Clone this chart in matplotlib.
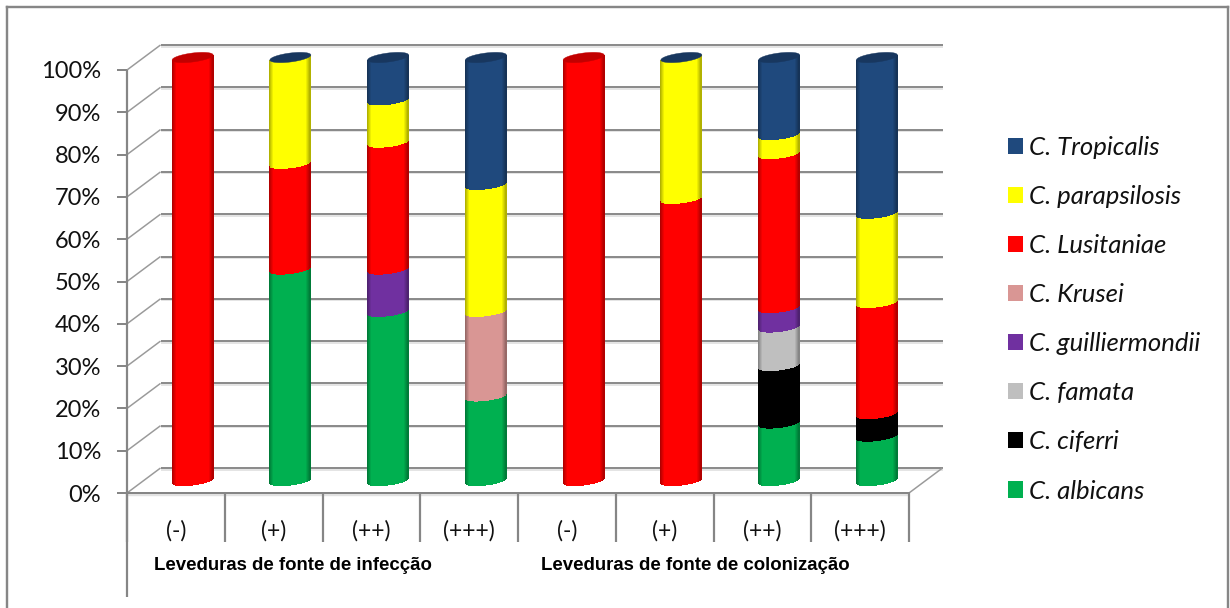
import numpy as np
import matplotlib
matplotlib.use("Agg")
import matplotlib.pyplot as plt
from matplotlib.collections import PolyCollection
from matplotlib.colors import to_rgb
from matplotlib.lines import Line2D
from matplotlib.patches import Patch, Polygon

nan = float("nan")

# Percentage of isolates per species in each group
categories = ["(-)", "(+)", "(++)", "(+++)", "(-)", "(+)", "(++)", "(+++)"]
albicans = [nan, 50, 40, 20, nan, nan, 13.6, 10.5]
ciferri = [nan, nan, nan, nan, nan, nan, 13.6, 5.3]
famata = [nan, nan, nan, nan, nan, nan, 9.1, nan]
guilliermondii = [nan, nan, 10, nan, nan, nan, 4.6, nan]
krusei = [nan, nan, nan, 20, nan, nan, nan, nan]
lusitaniae = [100, 25, 30, nan, 100, 66.7, 36.4, 26.3]
parapsilosis = [nan, 25, 10, 30, nan, 33.3, 4.5, 21.1]
tropicalis = [nan, 0, 10, 30, nan, 0, 18.2, 36.8]

series = [albicans, ciferri, famata, guilliermondii, krusei,
          lusitaniae, parapsilosis, tropicalis]
series_names = ["C. albicans", "C. ciferri", "C. famata", "C. guilliermondii",
                "C. Krusei", "C. Lusitaniae", "C. parapsilosis", "C. Tropicalis"]
series_colors = ["#00B050", "#000000", "#BFBFBF", "#7030A0",
                 "#D99694", "#FF0000", "#FFFF00", "#1F497D"]
group_names = ["Leveduras de fonte de infecção", "Leveduras de fonte de colonização"]
y_ticks = list(range(0, 101, 10))

W, H = 1230, 608
LEFT, RIGHT, BASE, TOP = 127, 909, 493, 70
DEPTH_X, DEPTH_Y = 33.5, 25
GRAY = "#868686"
plt.rcParams["font.family"] = ["Lato", "DejaVu Sans"]

fig = plt.figure(figsize=(W / 100, H / 100), dpi=100, facecolor="white")
ax = fig.add_axes([LEFT / W, 1 - BASE / H, (RIGHT - LEFT) / W, (BASE - TOP) / H])
ax.set_xlim(0, len(categories))
ax.set_ylim(0, 100)
ax.patch.set_visible(False)

px = 72 / 100  # points per pixel


def dx(pixels):
    return pixels * len(categories) / (RIGHT - LEFT)


def dy(pixels):
    # positive pixel values move upwards on the sheet
    return pixels * 100 / (BASE - TOP)


def seg(xs, ys, lw=2.0, color=GRAY, z=1):
    ax.add_line(Line2D(xs, ys, lw=lw * px, color=color, zorder=z, clip_on=False,
                       solid_capstyle="butt"))


# Outer chart border (runs past the lower edge of the sheet)
for xs, ys in [([7, 7], [608, 7]), ([7, 1228], [7, 7]), ([1228, 1228], [7, 608])]:
    fig.add_artist(Line2D([x / W for x in xs], [1 - y / H for y in ys],
                          lw=2.4 * px, color=GRAY, transform=fig.transFigure))

# Back wall gridlines and the receding lines on the side wall
n = len(categories)
for v in y_ticks:
    seg([dx(DEPTH_X), n + dx(DEPTH_X)], [v + dy(DEPTH_Y - 1.6)] * 2, lw=1.5, color="#dcdcdc", z=0.9)
    seg([dx(DEPTH_X), n + dx(DEPTH_X)], [v + dy(DEPTH_Y)] * 2, lw=1.9, z=1)
    seg([0, dx(DEPTH_X)], [v, v + dy(DEPTH_Y)], lw=1.5, color="#9a9a9a", z=1)
seg([n, n + dx(DEPTH_X)], [0, dy(DEPTH_Y)], lw=1.5, color="#9a9a9a", z=1)

# Floor front edge with its soft shadow, and the long vertical axis line
seg([0, n], [dy(-2.2)] * 2, lw=2.4, color="#e2e2e2", z=0.9)
seg([0, 0], [100, dy(-104)], lw=2.2, z=2)


def strip_profile(t, color):
    """Brightness across a cylinder, t in -1..1."""
    edge = np.clip((1 - np.abs(t)) / 0.22, 0, 1)
    shade = 0.66 + 0.34 * edge
    c = np.array(to_rgb(color))
    return tuple(np.clip(c * shade, 0, 1))


def front_arc(center_y_px, u, half_height=4.5, tilt=2.5):
    return center_y_px + half_height * np.sqrt(np.clip(1 - u ** 2, 0, 1)) - tilt * u


def draw_segment(cx, low, high, color, half_width=20.5, z=3):
    edges = np.linspace(-1, 1, 41)
    polys, faces = [], []
    for a, b in zip(edges[:-1], edges[1:]):
        x0, x1 = cx + dx(half_width) * a, cx + dx(half_width) * b
        low_a = low + dy(-(front_arc(0, a)))
        low_b = low + dy(-(front_arc(0, b)))
        high_a = high + dy(-(front_arc(0, a)))
        high_b = high + dy(-(front_arc(0, b)))
        polys.append([(x0, low_a), (x1, low_b), (x1, high_b), (x0, high_a)])
        faces.append(strip_profile((a + b) / 2, color))
    # Aliased strips leave no pale seams between neighbours
    ax.add_collection(PolyCollection(polys, facecolors=faces, edgecolors="none",
                                     antialiaseds=False, zorder=z, clip_on=False))


def draw_cap(cx, top, color, half_width=20.5, z=4):
    t = np.linspace(0, 2 * np.pi, 90)
    xs = cx + dx(half_width) * np.cos(t)
    ys = top + dy(-(4.5 * np.sin(t) - 2.5 * np.cos(t)))
    dark = tuple(np.array(to_rgb(color)) * 0.76)
    ax.add_patch(Polygon(np.column_stack([xs, ys]), closed=True, facecolor=dark,
                         edgecolor=dark, lw=0.3, zorder=z, clip_on=False))


# Stacked cylinders, standing halfway into the depth of the floor
for i in range(n):
    cx = i + 0.5 + dx(DEPTH_X / 2)
    bottom = dy(DEPTH_Y / 2)
    running = 0.0
    top_color = None
    for values, color in zip(series, series_colors):
        v = values[i]
        if np.isnan(v):
            continue
        top_color = color
        if v > 0:
            draw_segment(cx, bottom + running, bottom + running + v, color)
            running += v
    draw_cap(cx, bottom + running, top_color)

# Axes furniture
for side in ("top", "right", "left"):
    ax.spines[side].set_visible(False)
ax.spines["bottom"].set_color(GRAY)
ax.spines["bottom"].set_linewidth(2.0 * px)
ax.spines["bottom"].set_zorder(2)

ax.set_yticks(y_ticks)
ax.set_yticklabels([f"{v}%" for v in y_ticks], fontsize=17, color="#111111")
ax.tick_params(axis="y", length=10 * px, width=2 * px, color=GRAY, pad=16 * px)

ax.set_xticks(np.arange(n + 1))
ax.set_xticklabels([])
ax.tick_params(axis="x", which="major", length=49 * px, width=2.2 * px, color=GRAY)
ax.set_xticks(np.arange(n) + 0.5, minor=True)
ax.set_xticklabels(categories, minor=True, fontsize=16.5, color="#111111")
ax.tick_params(axis="x", which="minor", length=0, pad=27 * px)

for center_px, name in zip((293, 695.5), group_names):
    ax.text((center_px - LEFT) * n / (RIGHT - LEFT), dy(-72.5), name, ha="center", va="center",
            family="Liberation Sans", weight="bold", fontsize=13.4, color="black", clip_on=False)

# Legend, last series on top
LEGEND_SIZE = 18.5
handles = [Patch(facecolor=c, edgecolor="none") for c in series_colors[::-1]]
leg = ax.legend(handles, series_names[::-1], loc="upper left",
                bbox_to_anchor=(1008 / W, 1 - 136 / H), bbox_transform=fig.transFigure,
                frameon=False, prop={"family": "Lato", "style": "italic", "size": LEGEND_SIZE},
                handlelength=15 * px / LEGEND_SIZE, handleheight=15 * px / LEGEND_SIZE,
                handletextpad=6 * px / LEGEND_SIZE, labelspacing=1.015,
                borderpad=0, borderaxespad=0)
for t in leg.get_texts():
    t.set_color("#111111")

fig.savefig("out.png", dpi=100, facecolor="white")
